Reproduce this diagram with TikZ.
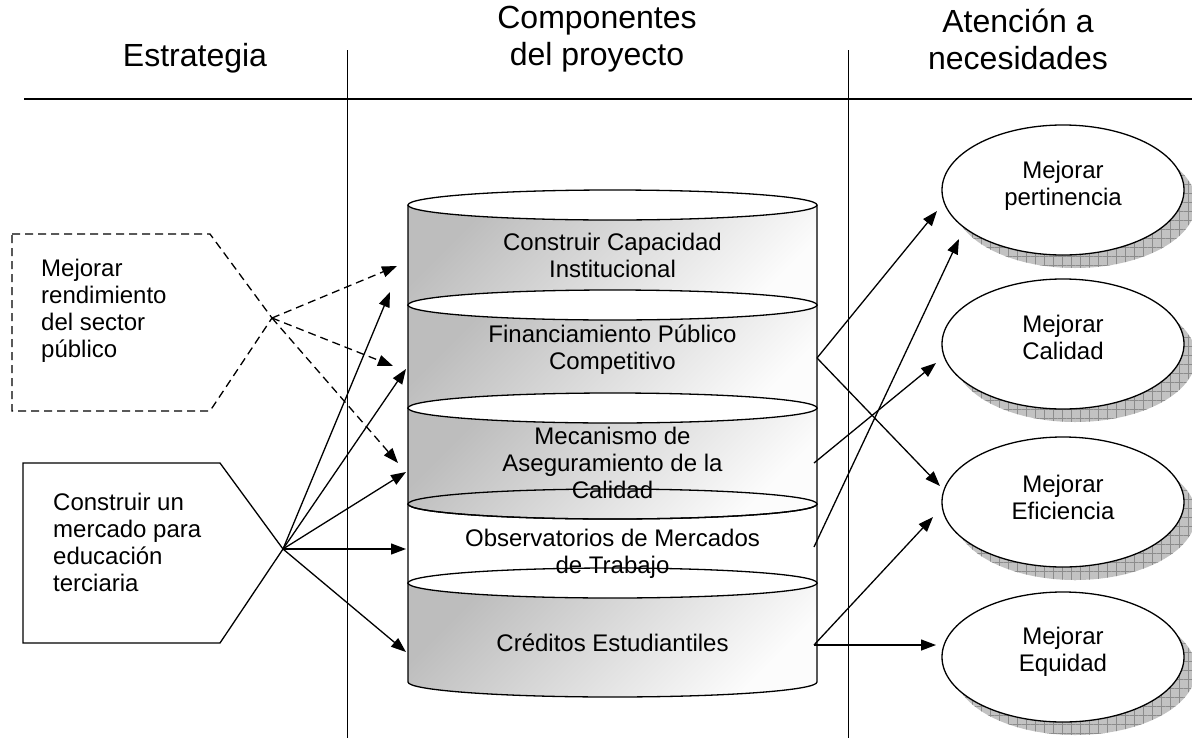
\documentclass[tikz,border=0pt]{standalone}
\usepackage{fontspec}
\setmainfont{Liberation Sans}
\usetikzlibrary{arrows.meta,patterns.meta,shapes.geometric}

\begin{document}
\begin{tikzpicture}[x=1pt,y=1pt,
  line/.style={line width=1.3pt},
  conn/.style={line width=1.3pt,-{Triangle[length=15pt,width=11pt]}},
  dconn/.style={conn,dash pattern=on 8pt off 5pt},
  body/.style={font=\fontsize{24}{27}\selectfont,align=center,inner sep=0pt},
  head/.style={font=\fontsize{32}{37}\selectfont,align=center,inner sep=0pt},
  cylfill/.style={top color=black!26,bottom color=black!1,shading angle=45},
  nofill/.style={},
  need/.style={ellipse,draw,line width=1.3pt,fill=white,minimum width=242pt,minimum height=130pt,inner sep=0pt},
  shadowbase/.style={fill=black!24},
  shadowgrid/.style={pattern={Hatch[angle=0,distance=9pt,line width=0.7pt]},pattern color=black!45},
]
\useasboundingbox (0,0) rectangle (1192,-742);
\clip (0,0) rectangle (1192,-742);

% column headings and dividers
\node[head] (h1) at (195,-58) {Estrategia};
\node[head] (h2) at (597,-39) {Componentes\\del proyecto};
\node[head] (h3) at (1018,-39) {Atención a\\necesidades};
\draw[line width=1.7pt] (24,-99) -- (1192,-99);
\draw[line width=1pt] (347,-50) -- (347,-738);
\draw[line width=1pt] (848,-50) -- (848,-738);

% stacked cylinder of project components
\foreach \yt/\yb/\f/\c in {205/305/cylfill/white, 305/408/cylfill/white,
    408/504/cylfill/white, 504/583/nofill/none, 583/682/cylfill/white} {
  \path[\f] (408,-\yt) -- (408,-\yb)
     arc[start angle=180,end angle=360,x radius=204.5,y radius=15] -- (817,-\yt) -- cycle;
  \draw[line] (408,-\yt) -- (408,-\yb)
     arc[start angle=180,end angle=360,x radius=204.5,y radius=15] -- (817,-\yt);
  \draw[line,fill=\c] (612.5,-\yt) ellipse[x radius=204.5,y radius=15];
}
\node[body] (c1) at (612.5,-255) {Construir Capacidad\\Institucional};
\node[body] (c2) at (612.5,-350) {Financiamiento Público\\Competitivo};
\node[body] (c3) at (612.5,-463) {Mecanismo de\\Aseguramiento de la\\Calidad};
\node[body] (c4) at (612.5,-554) {Observatorios de Mercados\\de Trabajo};
\node[body] (c5) at (612.5,-643) {Créditos Estudiantiles};

% strategies
\coordinate (dtip) at (272,-318);
\coordinate (stip) at (283,-549);
\draw[line,dash pattern=on 8pt off 5pt] (12,-234) -- (210,-234) -- (dtip) -- (210,-411) -- (12,-411) -- cycle;
\draw[line] (23,-463) -- (220,-463) -- (stip) -- (220,-643) -- (23,-643) -- cycle;
\node[body,align=left,anchor=west] (srend) at (41,-311) {Mejorar\\rendimiento\\del sector\\público};
\node[body,align=left,anchor=west] (smerc) at (53,-542) {Construir un\\mercado para\\educación\\terciaria};

% needs, with hatched shadows
\foreach \cy in {190,344,502,657} {
  \path[shadowbase] (1075,-\cy-13) ellipse[x radius=121,y radius=65];
  \path[shadowgrid] (1075,-\cy-13) ellipse[x radius=121,y radius=65];
}
\node[need] (pert) at (1063,-190) {};
\node[need] (cal) at (1063,-344) {};
\node[need] (efi) at (1063,-502) {};
\node[need] (equ) at (1063,-657) {};
\node[body] (tpert) at (1063,-186) {Mejorar\\pertinencia};
\node[body] (tcal) at (1063,-337) {Mejorar\\Calidad};
\node[body] (tefi) at (1063,-497) {Mejorar\\Eficiencia};
\node[body] (tequ) at (1063,-652) {Mejorar\\Equidad};

% arrow end points
\coordinate (d1) at (397,-266);
\coordinate (d2) at (393,-366);
\coordinate (d3) at (398,-463);
\coordinate (s1) at (390,-292);
\coordinate (s2) at (406,-369);
\coordinate (s3) at (406,-472);
\coordinate (s4) at (406,-549);
\coordinate (s5) at (406,-652);
\coordinate (rF) at (817,-358);
\coordinate (rM) at (814,-463);
\coordinate (rO) at (814,-547);
\coordinate (rC) at (814,-645);
\coordinate (pa) at (937,-211);
\coordinate (pb) at (959,-239);
\coordinate (ca) at (936,-363);
\coordinate (ea) at (940,-486);
\coordinate (eb) at (933,-517);
\coordinate (qa) at (936,-645);

% connectors
\draw[dconn] (dtip) -- (d1);
\draw[dconn] (dtip) -- (d2);
\draw[dconn] (dtip) -- (d3);
\foreach \t in {s1,s2,s3,s4,s5} \draw[conn] (stip) -- (\t);
\draw[conn] (rF) -- (pa);
\draw[conn] (rF) -- (ea);
\draw[conn] (rM) -- (ca);
\draw[conn] (rO) -- (pb);
\draw[conn] (rC) -- (eb);
\draw[conn] (rC) -- (qa);
\end{tikzpicture}
\end{document}
